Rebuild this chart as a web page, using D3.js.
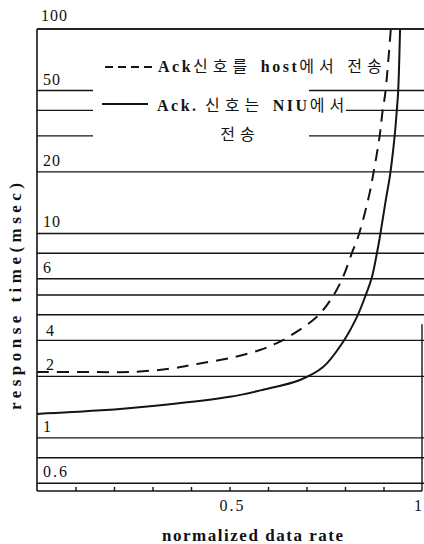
<!DOCTYPE html>
<html>
<head>
<meta charset="utf-8">
<script src="https://cdn.jsdelivr.net/npm/d3@7"></script>
<style>
  body { margin: 0; background: #fff; }
  .num { font-family: "Liberation Serif", serif; font-size: 16px; fill: #111; }
  .ttl { font-family: "Liberation Serif", serif; font-size: 17px; font-weight: bold; fill: #111; }
  .lat { font-family: "Liberation Serif", serif; font-weight: bold; letter-spacing: 2.5px; }
  .kor { font-family: "Noto Sans CJK KR", sans-serif; font-weight: 400; letter-spacing: 5px; }
</style>
</head>
<body>
<svg width="424" height="544"></svg>
<script>
// gridlines (log scale) and labels
const gridValues  = [100, 50, 40, 30, 20, 10, 8, 6, 5, 4, 3, 2, 1, 0.8, 0.6]
const yTickLabels = ["100", "50", "20", "10", "6", "4", "2", "1", "0.6"]
const xTickValues = [0.1, 0.2, 0.3, 0.4, 0.5, 0.6, 0.7, 0.8, 0.9]
const xTickLabels = ["0.5", "1"]

// Ack 신호를 host에서 전송 (dashed)
const hostX = [0, 0.156, 0.242, 0.345, 0.416, 0.501, 0.579, 0.623, 0.657, 0.727, 0.766, 0.795, 0.818, 0.834, 0.860, 0.873, 0.890, 0.897, 0.905, 0.919]
const hostY = [2.10, 2.10, 2.10, 2.18, 2.30, 2.46, 2.69, 2.91, 3.15, 3.91, 4.84, 6.13, 8.03, 9.61, 14.6, 19.3, 30.0, 38.8, 49.2, 100]
// Ack. 신호는 NIU에서 전송 (solid)
const niuX = [0, 0.156, 0.327, 0.501, 0.587, 0.683, 0.743, 0.795, 0.831, 0.852, 0.870, 0.883, 0.891, 0.906, 0.917, 0.929, 0.934, 0.938, 0.943]
const niuY = [1.31, 1.36, 1.45, 1.59, 1.72, 1.92, 2.22, 2.95, 3.91, 4.89, 6.13, 8.03, 9.72, 14.6, 19.3, 30.0, 38.8, 49.2, 100]

const legendHost = [["lat", "Ack"], ["kor", "신호를 "], ["lat", "host"], ["kor", "에서 전송"]]
const legendNiu  = [["lat", "Ack. "], ["kor", "신호는 "], ["lat", "NIU"], ["kor", "에서"]]
const legendNiu2 = "전송"

const pLeft = 37, pRight = 422, pTop = 29, pBottom = 491

const x = d3.scaleLinear().domain([0, 1]).range([pLeft, pRight])
const y = d3.scaleLog().domain([0.55, 100]).range([pBottom, pTop])

const svg = d3.select("svg")
const ink = "#141414"

// gridlines
svg.append("g").selectAll("line")
  .data(gridValues)
  .enter()
  .append("line")
  .attr("x1", pLeft).attr("x2", 424)
  .attr("y1", d => y(d)).attr("y2", d => y(d))
  .attr("stroke", ink).attr("stroke-width", 1.4)

// legend background cuts the upper gridlines
svg.append("rect").attr("x", 93).attr("y", 84).attr("width", 216).attr("height", 62).attr("fill", "#fff")
svg.append("rect").attr("x", 93).attr("y", 105).attr("width", 253).attr("height", 14).attr("fill", "#fff")

// frame
svg.append("line").attr("x1", pLeft).attr("x2", pLeft).attr("y1", pTop).attr("y2", pBottom)
  .attr("stroke", ink).attr("stroke-width", 1.6)
svg.append("line").attr("x1", pLeft).attr("x2", 424).attr("y1", pTop).attr("y2", pTop)
  .attr("stroke", ink).attr("stroke-width", 1.6)
svg.append("line").attr("x1", pLeft).attr("x2", pRight).attr("y1", pBottom).attr("y2", pBottom)
  .attr("stroke", ink).attr("stroke-width", 1.6)
svg.append("line").attr("x1", pRight).attr("x2", pRight).attr("y1", y(3.6)).attr("y2", pBottom)
  .attr("stroke", ink).attr("stroke-width", 1.4)

// x ticks point up from the bottom
const xAxis = d3.axisTop(x).tickValues(xTickValues).tickSize(4).tickFormat("")
const xg = svg.append("g").attr("transform", `translate(0,${pBottom})`).call(xAxis)
xg.select(".domain").remove()
xg.selectAll("line").attr("stroke", ink).attr("stroke-width", 1.4)

svg.selectAll(".xlab")
  .data(xTickLabels)
  .enter()
  .append("text")
  .attr("class", "num")
  .attr("x", d => x(+d) + (+d === 1 ? -3 : 3))
  .attr("y", 511)
  .attr("text-anchor", "middle")
  .style("letter-spacing", "2px")
  .text(d => d)

// y labels sit just above their lines ("4" sits lower, as drawn)
svg.selectAll(".ylab")
  .data(yTickLabels)
  .enter()
  .append("text")
  .attr("class", "num")
  .attr("x", d => d === "100" ? 41 : (d === "4" || d === "2" ? 46 : 43))
  .attr("y", d => d === "4" ? y(3) - 4 : (d === "100" ? y(100) - 8 : y(+d) - 6))
  .style("letter-spacing", d => d.includes(".") ? "2px" : "1px")
  .text(d => d)

// curves
const line = d3.line().x(d => x(d[0])).y(d => y(d[1])).curve(d3.curveCatmullRom.alpha(0.5))

svg.append("path")
  .datum(d3.zip(hostX, hostY))
  .attr("d", line)
  .attr("fill", "none").attr("stroke", ink).attr("stroke-width", 2)
  .attr("stroke-dasharray", "12,8")

svg.append("path")
  .datum(d3.zip(niuX, niuY))
  .attr("d", line)
  .attr("fill", "none").attr("stroke", ink).attr("stroke-width", 2)

// legend
svg.append("line").attr("x1", 105).attr("x2", 156).attr("y1", 67).attr("y2", 67)
  .attr("stroke", ink).attr("stroke-width", 1.8).attr("stroke-dasharray", "8,5")
svg.append("line").attr("x1", 102).attr("x2", 148).attr("y1", 104).attr("y2", 104)
  .attr("stroke", ink).attr("stroke-width", 1.8)

function legendText(parts, xPos, yPos){
  const t = svg.append("text")
    .attr("x", xPos).attr("y", yPos)
    .attr("font-size", 16).attr("fill", ink)
  t.selectAll("tspan")
    .data(parts)
    .enter()
    .append("tspan")
    .attr("class", d => d[0])
    .text(d => d[1])
}
legendText(legendHost, 158, 72)
legendText(legendNiu, 157, 111)
svg.append("text").attr("class", "kor")
  .attr("x", 240).attr("y", 140).attr("text-anchor", "middle")
  .attr("font-size", 16).attr("fill", ink)
  .text(legendNiu2)

// axis titles
svg.append("text").attr("class", "ttl")
  .attr("x", 162).attr("y", 541)
  .attr("textLength", 181).attr("lengthAdjust", "spacing")
  .text("normalized data rate")

svg.append("text").attr("class", "ttl")
  .attr("transform", "translate(21,410) rotate(-90)")
  .attr("textLength", 227).attr("lengthAdjust", "spacing")
  .text("response time(msec)")
</script>
</body>
</html>
